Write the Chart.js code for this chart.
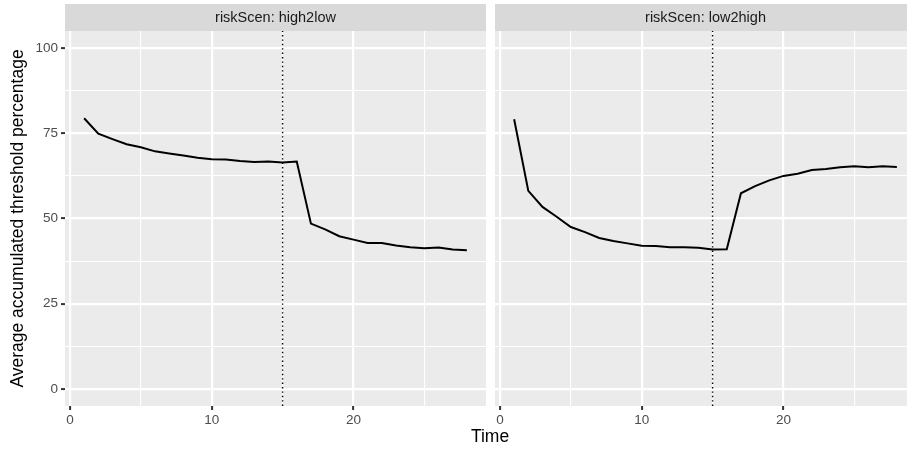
<!DOCTYPE html>
<html>
<head>
<meta charset="utf-8">
<script src="https://cdn.jsdelivr.net/npm/chart.js@4/dist/chart.umd.min.js"></script>
<style>
  html, body { margin: 0; padding: 0; background: #fff; overflow: hidden; width: 907px; height: 450px; }
  .panel { position: absolute; top: 0; height: 450px; }
  #leftBox { left: 0; width: 490px; }
  #rightBox { left: 490px; width: 440px; }
  #xTitle { position: absolute; left: 440px; width: 100px; top: 426px; line-height: 22px;
            text-align: center; font: 17.5px "Liberation Sans", Arial, sans-serif; color: #000; }
</style>
</head>
<body>
<div class="panel" id="leftBox"><canvas id="chartHigh2Low"></canvas></div>
<div class="panel" id="rightBox"><canvas id="chartLow2High"></canvas></div>
<div id="xTitle">Time</div>
<script>
// facet labels
const facetLabels = ['riskScen: high2low', 'riskScen: low2high'];

// time steps
const timeSteps = [1, 2, 3, 4, 5, 6, 7, 8, 9, 10, 11, 12, 13, 14,
                   15, 16, 17, 18, 19, 20, 21, 22, 23, 24, 25, 26, 27, 28];

// average accumulated threshold percentage per scenario
const high2low = [79.4, 74.9, 73.3, 71.8, 70.9, 69.7, 69.1, 68.5, 67.8, 67.4, 67.3, 66.9, 66.6, 66.7,
                  66.4, 66.7, 48.5, 46.8, 44.8, 43.8, 42.8, 42.8, 42.1, 41.6, 41.3, 41.5, 40.9, 40.7];
const low2high = [79.1, 58.1, 53.4, 50.5, 47.5, 46.0, 44.3, 43.4, 42.7, 42.0, 41.9, 41.6, 41.6, 41.4,
                  40.9, 41.0, 57.4, 59.5, 61.2, 62.5, 63.1, 64.2, 64.5, 65.0, 65.3, 65.0, 65.3, 65.1];

// scenario switch marker
const switchTime = 15;

// axis ticks (major + minor)
const xTicks = [0, 5, 10, 15, 20, 25];
const yTicks = [0, 12.5, 25, 37.5, 50, 62.5, 75, 87.5, 100];
const xLimits = [-0.35, 29.35];
const yLimits = [-5, 105];

Chart.defaults.font.family = '"Liberation Sans", Arial, sans-serif';
Chart.defaults.animation = false;

// panel background + facet strip
const facetPlugin = {
  id: 'facet',
  beforeDraw(chart, args, opts) {
    const a = chart.chartArea;
    const c = chart.ctx;
    c.save();
    c.fillStyle = '#EBEBEB';
    c.fillRect(a.left, a.top, a.right - a.left, a.bottom - a.top);
    c.fillStyle = '#D9D9D9';
    c.fillRect(a.left, 4, a.right - a.left, a.top - 4);
    c.fillStyle = '#1A1A1A';
    c.font = '14.5px "Liberation Sans", Arial, sans-serif';
    c.textAlign = 'center';
    c.textBaseline = 'middle';
    c.fillText(opts.label, a.left + (a.right - a.left) / 2, 18);
    c.restore();
  }
};

function makeChart(canvasId, values, label, isLeft) {
  const config = {
    type: 'line',
    data: {
      datasets: [
        {
          data: timeSteps.map((t, i) => ({ x: t, y: values[i] })),
          borderColor: '#000',
          borderWidth: 2,
          pointRadius: 0,
          tension: 0
        },
        {
          data: [{ x: switchTime, y: yLimits[0] }, { x: switchTime, y: yLimits[1] }],
          borderColor: '#000',
          borderWidth: 1.4,
          borderDash: [1.4, 3],
          pointRadius: 0
        }
      ]
    },
    options: {
      responsive: true,
      maintainAspectRatio: false,
      layout: { padding: { left: 0, right: isLeft ? 4 : 14, top: 31, bottom: 0 } },
      plugins: {
        legend: { display: false },
        tooltip: { enabled: false },
        facet: { label: label }
      },
      scales: {
        x: {
          type: 'linear',
          min: xLimits[0],
          max: xLimits[1],
          afterBuildTicks: (scale) => { scale.ticks = xTicks.map(v => ({ value: v })); },
          afterFit: (scale) => { scale.height = 44; },
          border: { display: false },
          grid: {
            color: '#FFFFFF',
            lineWidth: (ctx) => (ctx.tick && ctx.tick.value % 10 === 0) ? 2.2 : 1.1,
            drawTicks: true,
            tickLength: 4,
            tickWidth: 2,
            tickColor: (ctx) => (ctx.tick && ctx.tick.value % 10 === 0) ? '#333333' : 'rgba(0,0,0,0)'
          },
          ticks: {
            padding: 2,
            maxRotation: 0,
            color: '#4D4D4D',
            font: { size: 13.5 },
            callback: (v) => (v % 10 === 0 ? String(v) : '')
          }
        },
        y: {
          type: 'linear',
          min: yLimits[0],
          max: yLimits[1],
          afterBuildTicks: (scale) => { scale.ticks = yTicks.map(v => ({ value: v })); },
          afterFit: (scale) => { scale.width = isLeft ? 65 : 5; },
          border: { display: false },
          grid: {
            color: '#FFFFFF',
            lineWidth: (ctx) => (ctx.tick && ctx.tick.value % 25 === 0) ? 2.2 : 1.1,
            drawTicks: isLeft,
            tickLength: 4,
            tickWidth: 2,
            tickColor: (ctx) => (ctx.tick && ctx.tick.value % 25 === 0) ? '#333333' : 'rgba(0,0,0,0)'
          },
          ticks: {
            display: isLeft,
            padding: 3,
            color: '#4D4D4D',
            font: { size: 13.5 },
            callback: (v) => (v % 25 === 0 ? String(v) : '')
          },
          title: {
            display: isLeft,
            text: 'Average accumulated threshold percentage',
            color: '#000',
            font: { size: 17.5 },
            padding: { top: 8, bottom: 0 }
          }
        }
      }
    },
    plugins: [facetPlugin]
  };
  const ctx = document.getElementById(canvasId).getContext('2d');
  return new Chart(ctx, config);
}

makeChart('chartHigh2Low', high2low, facetLabels[0], true);
makeChart('chartLow2High', low2high, facetLabels[1], false);
</script>
</body>
</html>
